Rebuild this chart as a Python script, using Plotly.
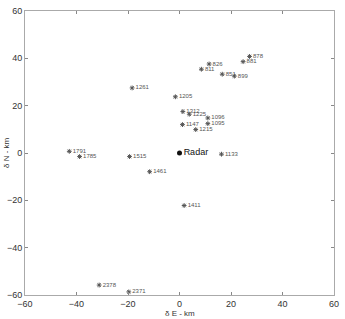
import plotly.graph_objects as go

# Station labels and positions (km east / north of radar)
labels = ["878", "881", "826", "811", "851", "899", "1261", "1205", "1312", "1225",
          "1096", "1147", "1095", "1215", "1133", "1791", "1785", "1515", "1461",
          "1411", "2378", "2371"]
east = [27.2, 24.7, 11.5, 8.5, 16.6, 21.3, -18.4, -1.6, 1.3, 3.8,
        11.0, 1.15, 11.0, 6.3, 16.3, -42.8, -38.8, -19.4, -11.6,
        1.8, -31.2, -19.7]
north = [40.8, 38.6, 37.6, 35.4, 33.3, 32.5, 27.5, 23.75, 17.5, 16.4,
         14.8, 12.0, 12.4, 9.9, -0.5, 0.7, -1.5, -1.5, -7.9,
         -22.2, -55.8, -58.7]
radar_x = [0]
radar_y = [0]
tick_vals = [-60, -40, -20, 0, 20, 40, 60]

fig = go.Figure()
fig.add_trace(go.Scatter(
    x=east, y=north, mode="markers+text", text=labels,
    textposition="middle right",
    textfont=dict(size=6, color="#555555", family="Liberation Sans"),
    marker=dict(symbol="asterisk-open", size=4, color="#555555",
                line=dict(width=1, color="#555555")),
    cliponaxis=False, showlegend=False))
fig.add_trace(go.Scatter(
    x=radar_x, y=radar_y, mode="markers+text", text=["Radar"],
    textposition="middle right",
    textfont=dict(size=9, color="#111111", family="Liberation Sans"),
    marker=dict(symbol="circle", size=5, color="#111111"),
    showlegend=False))

axis_common = dict(
    tickvals=tick_vals, ticks="inside", ticklen=3, tickcolor="#888888",
    showline=True, linecolor="#aaaaaa", linewidth=1, mirror="ticks",
    showgrid=False, zeroline=False,
    tickfont=dict(size=9, color="#333333", family="Liberation Sans"))

fig.update_layout(
    width=345, height=319,
    margin=dict(l=25, r=6, t=7, b=24),
    paper_bgcolor="white", plot_bgcolor="white",
    xaxis=dict(range=[-60, 60], **axis_common),
    yaxis=dict(range=[-60, 60], **axis_common),
    annotations=[
        dict(text="δ E - km", xref="paper", yref="paper", x=0.5, y=0,
             yshift=-12, yanchor="top", xanchor="center", showarrow=False,
             font=dict(size=8, color="#333333", family="Liberation Sans")),
        dict(text="δ N - km", xref="paper", yref="paper", x=0, y=0.5,
             xshift=-19, xanchor="center", yanchor="middle", textangle=-90,
             showarrow=False,
             font=dict(size=8, color="#333333", family="Liberation Sans")),
    ])
fig.write_html("out.html")
